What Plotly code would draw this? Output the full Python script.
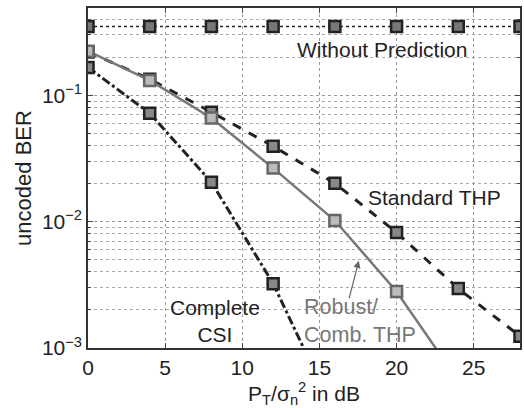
import plotly.graph_objects as go

snr_db = [0, 4, 8, 12, 16, 20, 24, 28]
ber_without = [0.35, 0.35, 0.35, 0.35, 0.35, 0.35, 0.35, 0.35]
snr_robust = [0, 4, 8, 12, 16, 20, 24]
ber_robust = [0.223, 0.131, 0.066, 0.0265, 0.0102, 0.0028, 0.00055]
snr_standard = [0, 4, 8, 12, 16, 20, 24, 28]
ber_standard = [0.22, 0.134, 0.0734, 0.0395, 0.0201, 0.0082, 0.00295, 0.00124]
snr_complete = [0, 4, 8, 12, 16]
ber_complete = [0.166, 0.072, 0.0205, 0.00323, 0.0003]

y_tickvals = [1e-3, 1e-2, 1e-1]
y_ticktext = ["10<sup>−3</sup>", "10<sup>−2</sup>", "10<sup>−1</sup>"]
x_tickvals = [0, 5, 10, 15, 20, 25]

FONT = "Liberation Sans, Arial, sans-serif"
minor_vals = [m * 10.0 ** e for e in (-3, -2, -1) for m in range(2, 10)]

fig = go.Figure()

fig.add_trace(go.Scatter(
    x=snr_db, y=ber_without, mode="lines+markers",
    line=dict(color="#222", width=1.6, dash="dot"),
    marker=dict(symbol="square", size=11, color="#777", line=dict(color="#222", width=2.5)),
    showlegend=False))

fig.add_trace(go.Scatter(
    x=snr_standard, y=ber_standard, mode="lines+markers",
    line=dict(color="#222", width=3, dash="dash"),
    marker=dict(symbol="square", size=11, color="#888", line=dict(color="#222", width=2.5)),
    showlegend=False))

fig.add_trace(go.Scatter(
    x=snr_robust, y=ber_robust, mode="lines+markers",
    line=dict(color="#777", width=2.5),
    marker=dict(symbol="square", size=11, color="#bbb", line=dict(color="#666", width=2.5)),
    showlegend=False))

fig.add_trace(go.Scatter(
    x=snr_complete, y=ber_complete, mode="lines+markers",
    line=dict(color="#222", width=3, dash="dashdot"),
    marker=dict(symbol="square", size=11, color="#888", line=dict(color="#222", width=2.5)),
    showlegend=False))

ann_font = dict(family=FONT, size=21, color="#222")
fig.add_annotation(x=19.04, y=-0.636, text="Without Prediction", showarrow=False, font=ann_font)
fig.add_annotation(x=22.44, y=-1.806, text="Standard THP", showarrow=False, font=ann_font)
fig.add_annotation(x=8.2, y=-2.79, text="Complete<br>CSI", showarrow=False,
                   font=ann_font)
fig.add_annotation(x=13.85, y=-2.79, text="Robust/<br>Comb. THP", showarrow=False,
                   align="left", xanchor="left",
                   font=dict(family=FONT, size=21.5, color="#777"))
fig.add_annotation(x=17.55, y=-2.31, ax=16.9, ay=-2.62, axref="x", ayref="y",
                   xref="x", yref="y", text="", showarrow=True,
                   arrowhead=2, arrowsize=1.2, arrowwidth=1.2, arrowcolor="#666")

fig.update_layout(
    width=524, height=408,
    margin=dict(l=88, r=4, t=8, b=60),
    plot_bgcolor="white", paper_bgcolor="white",
    font=dict(family=FONT, size=21, color="#222"),
    xaxis=dict(
        range=[0, 28], tickvals=x_tickvals, ticks="inside", ticklen=5,
        showline=True, linecolor="#333", linewidth=1.5, mirror="ticks",
        showgrid=True, gridcolor="#999", griddash="dot", gridwidth=1,
        zeroline=False, automargin=False,
        title=dict(text="P<sub>T</sub>/σ<sub>n</sub><sup>2</sup> in dB", standoff=0,
                   font=dict(size=21)),
        tickfont=dict(size=21),
    ),
    yaxis=dict(
        type="log", range=[-3, -0.31], tickvals=y_tickvals, ticktext=y_ticktext,
        ticks="inside", ticklen=5,
        showline=True, linecolor="#333", linewidth=1.5, mirror="ticks",
        showgrid=True, gridcolor="#999", griddash="dot", gridwidth=1,
        zeroline=False, automargin=False,
        minor=dict(tickvals=minor_vals, showgrid=True, gridcolor="#aaa",
                   griddash="dot", ticks="inside", ticklen=3),
        title=dict(text="uncoded BER", standoff=4, font=dict(size=22)),
        tickfont=dict(size=21),
    ),
)

fig.write_html("out.html", config={"displayModeBar": False},
               post_script="document.body.style.margin='0';document.body.style.overflow='hidden';")
